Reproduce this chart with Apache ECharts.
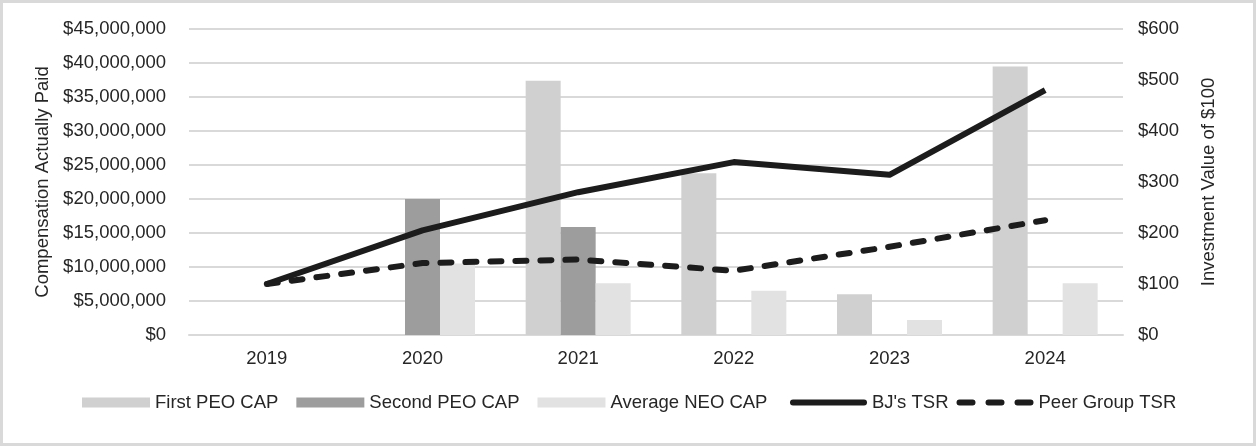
<!DOCTYPE html>
<html>
<head>
<meta charset="utf-8">
<script src="https://cdn.jsdelivr.net/npm/echarts@6/dist/echarts.min.js"></script>
<style>
html,body{margin:0;padding:0;background:#fff;}
#c{width:1256px;height:446px;}
</style>
</head>
<body>
<div id="c"></div>
<script>
const categories = ['2019','2020','2021','2022','2023','2024'];
const firstPeoCap = [null, null, 37400000, 23800000, 6000000, 39500000];
const secondPeoCap = [null, 20000000, 15900000, null, null, null];
const avgNeoCap = [null, 10500000, 7600000, 6500000, 2200000, 7600000];
const bjsTsr = [100, 205, 280, 339, 314, 480];
const peerTsr = [100, 141, 148, 126, 173, 225];

const FONT = 'Liberation Sans, Arial, sans-serif';
const FS = 18.5;
const TXT = '#262626';
const GRID = '#d9d9d9';
const LINE = '#1c1c1c';

const solidIcon = 'path://M3,0h71a3,3 0 0 1 0,6h-71a3,3 0 0 1 0,-6z';
const dashIcon = 'path://M3,0h13a3,3 0 0 1 0,6h-13a3,3 0 0 1 0,-6z' +
  'M32,0h13a3,3 0 0 1 0,6h-13a3,3 0 0 1 0,-6z' +
  'M61,0h13a3,3 0 0 1 0,6h-13a3,3 0 0 1 0,-6z';

const chart = echarts.init(document.getElementById('c'), null, {renderer:'canvas'});
chart.setOption({
  animation:false,
  backgroundColor:'#fff',
  textStyle:{fontFamily:FONT},
  graphic:[{type:'rect', shape:{x:1.5,y:1.5,width:1253,height:443}, style:{fill:'none', stroke:GRID, lineWidth:3}, silent:true}],
  grid:{left:189, right:133, top:29, bottom:111, containLabel:false},
  legend:[{
    data:['First PEO CAP','Second PEO CAP','Average NEO CAP'],
    left:82, top:393, padding:0, itemWidth:68, itemHeight:10, itemGap:18,
    icon:'rect',
    textStyle:{fontFamily:FONT, fontSize:FS, color:TXT}
  },{
    data:[{name:"BJ's TSR", icon:solidIcon}, {name:'Peer Group TSR', icon:dashIcon}],
    left:790, top:393, padding:0, itemWidth:77, itemHeight:6, itemGap:8,
    itemStyle:{color:LINE, borderWidth:0},
    lineStyle:{width:0},
    textStyle:{fontFamily:FONT, fontSize:FS, color:TXT}
  }],
  xAxis:{
    type:'category', data:categories, boundaryGap:true,
    axisLine:{lineStyle:{color:GRID, width:2}},
    axisTick:{show:false},
    axisLabel:{fontFamily:FONT, fontSize:FS, color:TXT, margin:14}
  },
  yAxis:[{
    type:'value', min:0, max:45000000, interval:5000000,
    name:'Compensation Actually Paid', nameLocation:'middle', nameGap:130,
    nameTextStyle:{fontFamily:FONT, fontSize:FS, color:TXT},
    axisLine:{show:false}, axisTick:{show:false},
    axisLabel:{fontFamily:FONT, fontSize:FS, color:TXT, margin:23,
      formatter:v=>'$'+v.toLocaleString('en-US')},
    splitLine:{lineStyle:{color:GRID, width:2}}
  },{
    type:'value', min:0, max:600, interval:100,
    name:'Investment Value of $100', nameLocation:'middle', nameGap:76,
    nameTextStyle:{fontFamily:FONT, fontSize:FS, color:TXT},
    axisLine:{show:false}, axisTick:{show:false},
    axisLabel:{fontFamily:FONT, fontSize:FS, color:TXT, margin:15,
      formatter:v=>'$'+v},
    splitLine:{show:false}
  }],
  series:[
    {name:'First PEO CAP', type:'bar', data:firstPeoCap, barWidth:35, barGap:'0%', itemStyle:{color:'#cfd0cf'}},
    {name:'Second PEO CAP', type:'bar', data:secondPeoCap, barWidth:35, barGap:'0%', itemStyle:{color:'#9d9d9d'}},
    {name:'Average NEO CAP', type:'bar', data:avgNeoCap, barWidth:35, barGap:'0%', itemStyle:{color:'#e1e2e1'}},
    {name:"BJ's TSR", type:'line', yAxisIndex:1, data:bjsTsr, symbol:'none', z:5,
      lineStyle:{color:LINE, width:6, join:'round'}, itemStyle:{color:LINE}},
    {name:'Peer Group TSR', type:'line', yAxisIndex:1, data:peerTsr, symbol:'none', z:5,
      lineStyle:{color:LINE, width:6, type:[11,14], cap:'round', join:'round'}, itemStyle:{color:LINE}}
  ]
});
</script>
</body>
</html>
